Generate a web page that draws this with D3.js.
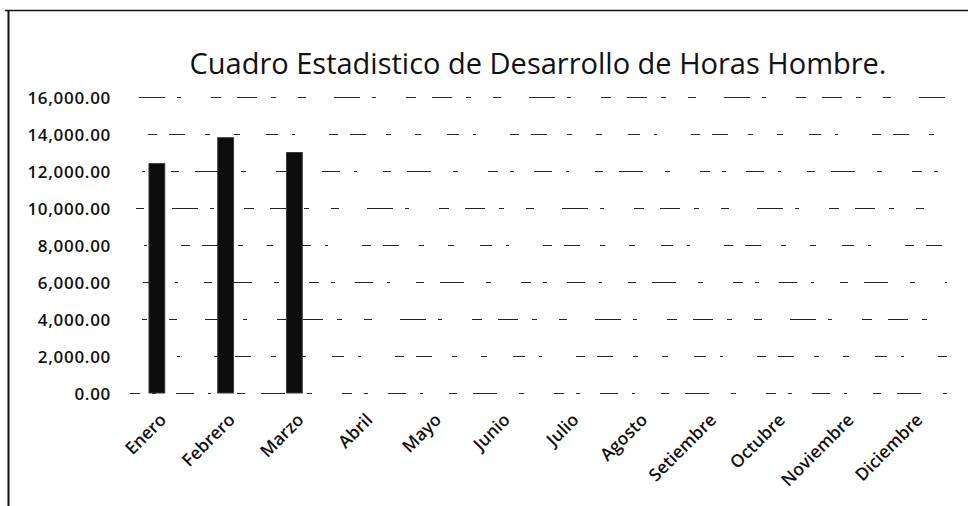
<!DOCTYPE html>
<html>
<head>
<meta charset="utf-8">
<script src="https://cdn.jsdelivr.net/npm/d3@7"></script>
<style>
  html, body { margin: 0; padding: 0; background: #fff; }
  svg { display: block; }
</style>
</head>
<body>
<svg id="chart" width="968" height="506"></svg>
<script>
// Monthly man-hours; only the first quarter has been recorded so far.
const months = ["Enero", "Febrero", "Marzo", "Abril", "Mayo", "Junio", "Julio",
                "Agosto", "Setiembre", "Octubre", "Noviembre", "Diciembre"];
const horasHombre = [12400, 13800, 13000, null, null, null, null, null, null, null, null, null];
const yTicks = [0, 2000, 4000, 6000, 8000, 10000, 12000, 14000, 16000];
const title = "Cuadro Estadistico de Desarrollo de Horas Hombre.";

const svg = d3.select("#chart");
const W = 968, H = 506;
const plot = { left: 122, right: 947, top: 97, bottom: 393 };

// Frame around the chart
svg.append("line").attr("x1", 5).attr("x2", W).attr("y1", 10.5).attr("y2", 10.5)
  .attr("stroke", "#111").attr("stroke-width", 1.6);
svg.append("line").attr("x1", 8.5).attr("x2", 8.5).attr("y1", 10).attr("y2", H)
  .attr("stroke", "#111").attr("stroke-width", 2);

const x = d3.scaleBand().domain(months).range([plot.left, plot.right]).paddingInner(0.77).paddingOuter(0.385);
const y = d3.scaleLinear().domain([0, 16000]).range([plot.bottom, plot.top]);

// Title
svg.append("text")
  .attr("x", 538).attr("y", 74)
  .attr("text-anchor", "middle")
  .attr("font-family", "'Open Sans', sans-serif")
  .attr("font-size", 29)
  .attr("fill", "#111")
  .text(title);

// Horizontal gridlines (broken, irregular dashes)
const yAxis = d3.axisLeft(y).tickValues(yTicks).tickFormat(d3.format(",.2f"))
  .tickSize(-(plot.right - plot.left - 8)).tickPadding(12);
const gy = svg.append("g").attr("transform", `translate(${plot.left + 8},0)`).call(yAxis);
gy.select(".domain").remove();
gy.selectAll(".tick line")
  .attr("stroke", "#222")
  .attr("stroke-width", 1)
  .attr("stroke-dasharray", (d, i) => [
    "10,12,4,20,18,14,3,26,8,16,24,22,5,30",
    "6,26,12,14,3,34,9,12,16,20,5,24",
    "20,14,5,22,8,28,26,12,4,30,10,16"
  ][i % 3])
  .attr("stroke-dashoffset", (d, i) => i * 11);
gy.selectAll(".tick text")
  .attr("font-family", "'Open Sans', sans-serif")
  .attr("font-size", 17)
  .attr("font-weight", 600)
  .attr("letter-spacing", 0.7)
  .attr("fill", "#111")
  .attr("x", -(plot.left + 8 - 111))
  .attr("dy", "0.36em");

// Bars
svg.append("g").selectAll("rect")
  .data(months.map((m, i) => ({ m, v: horasHombre[i] })).filter(d => d.v != null))
  .join("rect")
  .attr("x", d => x(d.m) + 0.5)
  .attr("width", x.bandwidth())
  .attr("y", d => y(d.v))
  .attr("height", d => y(0) - y(d.v))
  .attr("fill", "#0c0c0c")
  .attr("stroke", "#3a3a3a")
  .attr("stroke-width", 1);

// Month labels, rotated
svg.append("g").selectAll("text")
  .data(months)
  .join("text")
  .attr("transform", d => `translate(${x(d) + x.bandwidth() / 2 + 11},${plot.bottom + 28}) rotate(-45)`)
  .attr("text-anchor", "end")
  .attr("font-family", "'Open Sans', sans-serif")
  .attr("font-size", 17.5)
  .attr("font-weight", 600)
  .attr("fill", "#111")
  .text(d => d);
</script>
</body>
</html>
